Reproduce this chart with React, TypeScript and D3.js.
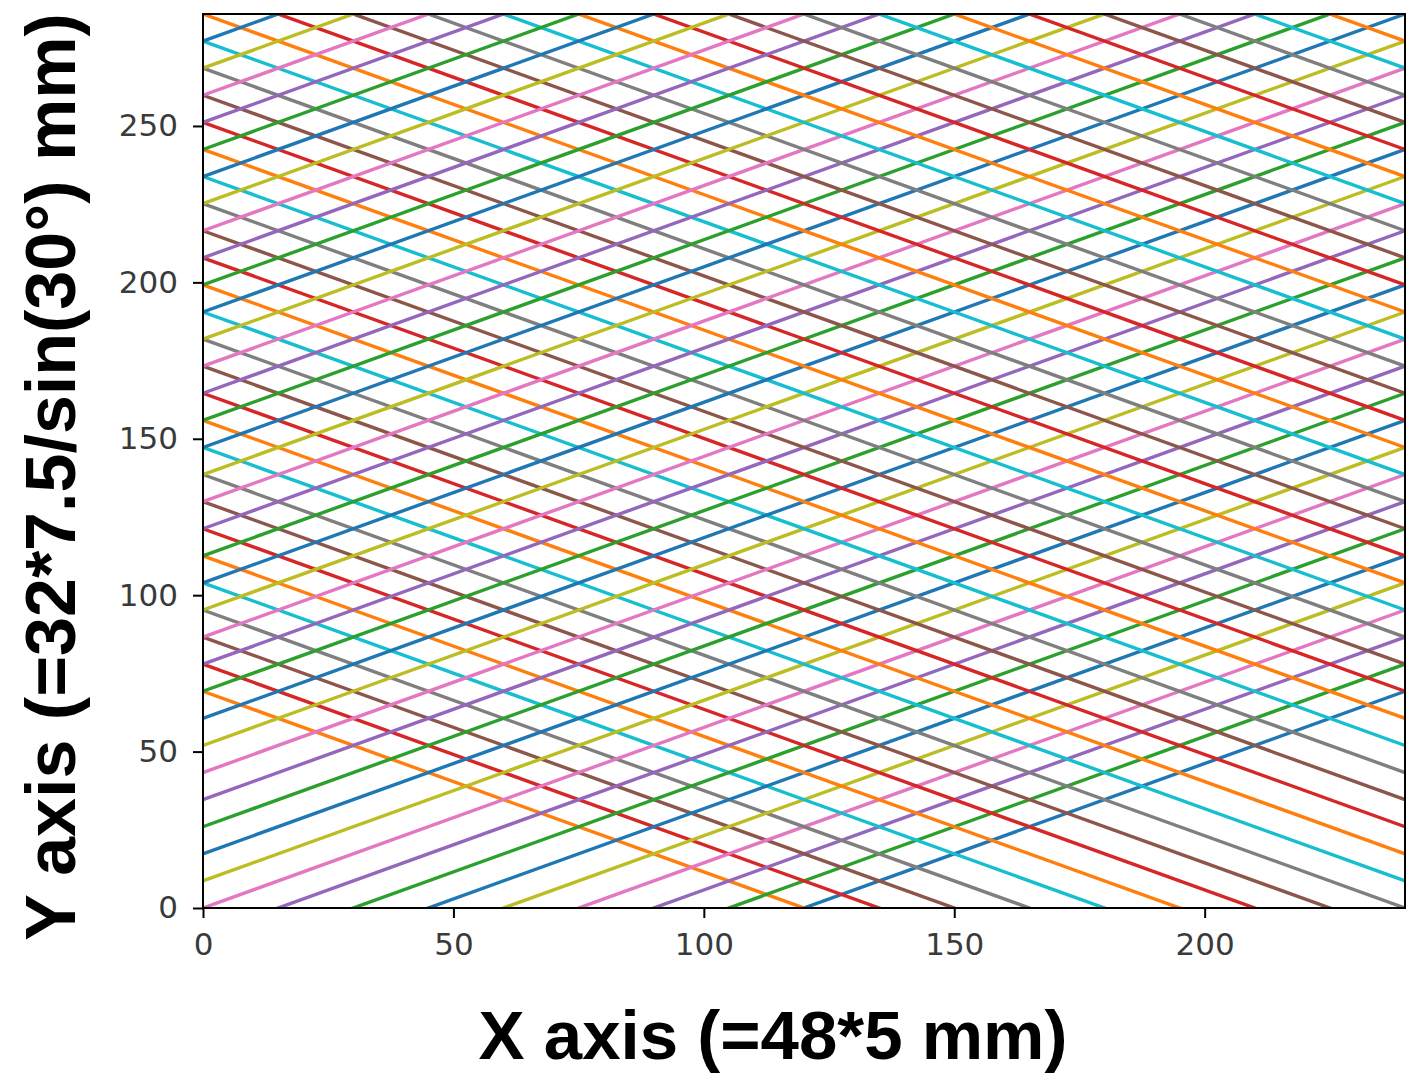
import React, { useRef, useEffect } from "react";
import * as d3 from "d3";

// line geometry: lines at +/-30 deg, 7.5 mm apart
const ANGLE_DEG = 30;
const SPACING = 7.5;
const X_MAX = 48 * 5;
const Y_MAX = 33 * (SPACING / Math.cos((ANGLE_DEG * Math.PI) / 180));

// offset of each line pair at the left edge, in multiples of the vertical spacing
const offsets = [
	-8, -7, -6, -5, -4, -3, -2, -1, 0, 1, 2, 3, 4, 5, 6, 7, 8, 9, 10, 11, 12, 13,
	14, 15, 16, 17, 18, 19, 20, 21, 22, 23, 24, 25, 26, 27, 28, 29, 30, 31, 32,
];

const xTicks = [0, 50, 100, 150, 200];
const yTicks = [0, 50, 100, 150, 200, 250];

const xLabel = "X axis (=48*5 mm)";
const yLabel = "Y axis (=32*7.5/sin(30\u00b0) mm)";

export default function App() {
	const d3Chart = useRef<SVGSVGElement>(null);

	useEffect(() => {
		const W = 1422,
			H = 1076;
		const margin = { top: 14, right: 17, bottom: 168, left: 203 };
		const width = W - margin.left - margin.right;
		const height = H - margin.top - margin.bottom;

		const svg = d3.select(d3Chart.current);
		svg.selectAll("*").remove();
		svg.attr("width", W).attr("height", H);

		const x = d3.scaleLinear().domain([0, X_MAX]).range([0, width]);
		const y = d3.scaleLinear().domain([0, Y_MAX]).range([height, 0]);

		svg
			.append("defs")
			.append("clipPath")
			.attr("id", "plotclip")
			.append("rect")
			.attr("width", width)
			.attr("height", height);

		const g = svg
			.append("g")
			.attr("transform", `translate(${margin.left},${margin.top})`);

		const slope = Math.tan((ANGLE_DEG * Math.PI) / 180);
		const step = SPACING / Math.cos((ANGLE_DEG * Math.PI) / 180);
		const colors = d3.schemeCategory10;

		const line = d3
			.line<[number, number]>()
			.x((d) => x(d[0]))
			.y((d) => y(d[1]));

		const lines: { pts: [number, number][]; color: string }[] = [];
		offsets.forEach((k, i) => {
			const c = k * step;
			// rising line
			lines.push({
				pts: [
					[0, c],
					[X_MAX, c + slope * X_MAX],
				],
				color: colors[(2 * i) % 10],
			});
			// falling line (mirror)
			lines.push({
				pts: [
					[0, c + slope * X_MAX],
					[X_MAX, c],
				],
				color: colors[(2 * i + 1) % 10],
			});
		});

		g.append("g")
			.attr("clip-path", "url(#plotclip)")
			.selectAll("path")
			.data(lines)
			.enter()
			.append("path")
			.attr("d", (d) => line(d.pts))
			.attr("fill", "none")
			.attr("stroke", (d) => d.color)
			.attr("stroke-width", 3.4);

		const xAxis = g
			.append("g")
			.attr("transform", `translate(0,${height})`)
			.call(
				d3
					.axisBottom(x)
					.tickValues(xTicks)
					.tickSize(10)
					.tickPadding(15)
					.tickFormat(d3.format("d"))
			);
		const yAxis = g.append("g").call(
			d3
				.axisLeft(y)
				.tickValues(yTicks)
				.tickSize(10)
				.tickPadding(15)
				.tickFormat(d3.format("d"))
		);

		[xAxis, yAxis].forEach((a) => {
			a.select(".domain").remove();
			a.selectAll("line").attr("stroke", "#000").attr("stroke-width", 2);
			a.selectAll("text")
				.attr("fill", "#3a3a3a")
				.style("font-family", "DejaVu Sans")
				.style("font-size", "31px");
		});

		g.append("rect")
			.attr("width", width)
			.attr("height", height)
			.attr("fill", "none")
			.attr("stroke", "#000")
			.attr("stroke-width", 2);

		svg
			.append("text")
			.attr("x", 773)
			.attr("y", 1059)
			.attr("text-anchor", "middle")
			.style("font-family", "Liberation Sans, Arial, sans-serif")
			.style("font-weight", "bold")
			.style("font-size", "69px")
			.text(xLabel);

		svg
			.append("text")
			.attr("transform", "translate(75,477) rotate(-90)")
			.attr("text-anchor", "middle")
			.style("font-family", "Liberation Sans, Arial, sans-serif")
			.style("font-weight", "bold")
			.style("font-size", "70px")
			.text(yLabel);
	}, []);

	return (
		<div style={{ position: "absolute", left: 0, top: 0 }}>
			<svg ref={d3Chart}></svg>
		</div>
	);
}
